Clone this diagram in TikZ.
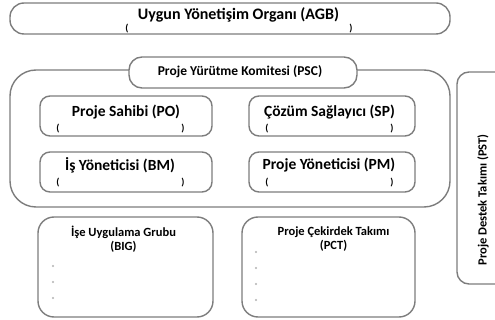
\documentclass[tikz,border=0pt]{standalone}
\usepackage{fontspec}
\setmainfont{Carlito}
\begin{document}
\begin{tikzpicture}[x=1pt,y=-1pt,
  frame/.style={draw=boxgray,line width=1.4pt,fill=white},
  ttl/.style={font=\bfseries\fontsize{15.5}{17}\selectfont,inner sep=0pt},
  pscttl/.style={font=\bfseries\fontsize{13.5}{15}\selectfont,inner sep=0pt},
  bigttl/.style={font=\bfseries\fontsize{16}{18}\selectfont,inner sep=0pt},
  smallttl/.style={font=\bfseries\fontsize{12.5}{14}\selectfont,inner sep=0pt,align=center},
  par/.style={font=\bfseries\fontsize{10}{11}\selectfont,inner sep=0pt},
  dot/.style={circle,fill=gray!60,inner sep=0pt,minimum size=2.4pt}]
\definecolor{boxgray}{RGB}{125,125,125}
\useasboundingbox (0,0) rectangle (495,320);
\clip (0,0) rectangle (495,320);
% AGB
\draw[frame,rounded corners=14pt] (10,3) rectangle (450,34);
\node[bigttl] (agb) at (238.5,15) {Uygun Yönetişim Organı (AGB)};
\node[par] (agbl) at (127,29) {(};
\node[par] (agbr) at (351,29) {)};
% PSC container
\draw[frame,rounded corners=26pt] (10,70) rectangle (450,207);
\draw[frame,rounded corners=13pt] (129,57) rectangle (357,88);
\node[pscttl] (psc) at (240,72) {Proje Yürütme Komitesi (PSC)};
% PO
\draw[frame,rounded corners=10pt] (40,96) rectangle (212,136);
\node[ttl] (po) at (126,112) {Proje Sahibi (PO)};
\node[par] at (58,129) {(};
\node[par] at (183,129) {)};
% BM
\draw[frame,rounded corners=10pt] (40,152) rectangle (212,192);
\node[ttl] (bm) at (120,165) {İş Yöneticisi (BM)};
\node[par] at (58,183) {(};
\node[par] at (183,183) {)};
% SP
\draw[frame,rounded corners=10pt] (249,96) rectangle (415,136);
\node[ttl] (sp) at (329.5,112) {Çözüm Sağlayıcı (SP)};
\node[par] at (267,129) {(};
\node[par] at (392,129) {)};
% PM
\draw[frame,rounded corners=10pt] (249,152) rectangle (415,192);
\node[ttl] (pm) at (329,165) {Proje Yöneticisi (PM)};
\node[par] at (267,183) {(};
\node[par] at (392,183) {)};
% BIG
\draw[frame,rounded corners=16pt] (38,217) rectangle (213,317);
\node[smallttl] (big) at (123.5,239) {İşe Uygulama Grubu\\(BIG)};
\node[dot] at (53,266) {};
\node[dot] at (53,282) {};
\node[dot] at (53,298) {};
% PCT
\draw[frame,rounded corners=16pt] (242,217) rectangle (415,317);
\node[smallttl] (pct) at (333.5,239) {Proje Çekirdek Takımı\\(PCT)};
\node[dot] at (256,252) {};
\node[dot] at (256,268) {};
\node[dot] at (256,284) {};
\node[dot] at (256,300) {};
% PST
\draw[frame,rounded corners=12pt] (457,72) rectangle (520,284);
\node[smallttl,rotate=90] (pst) at (483,200) {Proje Destek Takımı (PST)};
\end{tikzpicture}
\end{document}
